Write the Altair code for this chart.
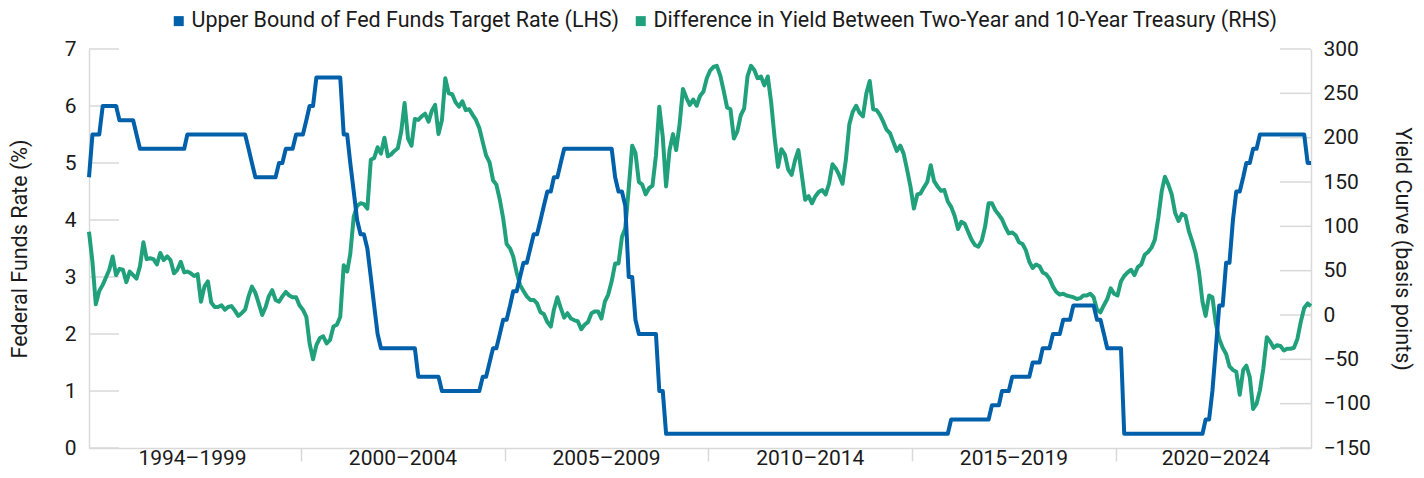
import altair as alt
import pandas as pd

# ---------------- data ----------------
months = pd.date_range("1994-10-01", "2024-10-01", freq="MS").strftime("%Y-%m-%d").tolist()

fed_funds = [
    4.75, 5.5, 5.5,                                                   # 1994 Oct-Dec
    5.5, 6.0, 6.0, 6.0, 6.0, 6.0, 5.75, 5.75, 5.75, 5.75, 5.75, 5.5,  # 1995
    5.25, 5.25, 5.25, 5.25, 5.25, 5.25, 5.25, 5.25, 5.25, 5.25, 5.25, 5.25,  # 1996
    5.25, 5.25, 5.5, 5.5, 5.5, 5.5, 5.5, 5.5, 5.5, 5.5, 5.5, 5.5,    # 1997
    5.5, 5.5, 5.5, 5.5, 5.5, 5.5, 5.5, 5.5, 5.25, 5.0, 4.75, 4.75,   # 1998
    4.75, 4.75, 4.75, 4.75, 4.75, 5.0, 5.0, 5.25, 5.25, 5.25, 5.5, 5.5,  # 1999
    5.5, 5.75, 6.0, 6.0, 6.5, 6.5, 6.5, 6.5, 6.5, 6.5, 6.5, 6.5,     # 2000
    5.5, 5.5, 5.0, 4.5, 4.0, 3.75, 3.75, 3.5, 3.0, 2.5, 2.0, 1.75,   # 2001
    1.75, 1.75, 1.75, 1.75, 1.75, 1.75, 1.75, 1.75, 1.75, 1.75, 1.25, 1.25,  # 2002
    1.25, 1.25, 1.25, 1.25, 1.25, 1.0, 1.0, 1.0, 1.0, 1.0, 1.0, 1.0,  # 2003
    1.0, 1.0, 1.0, 1.0, 1.0, 1.25, 1.25, 1.5, 1.75, 1.75, 2.0, 2.25,  # 2004
    2.25, 2.5, 2.75, 2.75, 3.0, 3.25, 3.25, 3.5, 3.75, 3.75, 4.0, 4.25,  # 2005
    4.5, 4.5, 4.75, 4.75, 5.0, 5.25, 5.25, 5.25, 5.25, 5.25, 5.25, 5.25,  # 2006
    5.25, 5.25, 5.25, 5.25, 5.25, 5.25, 5.25, 5.25, 4.75, 4.5, 4.5, 4.25,  # 2007
    3.0, 3.0, 2.25, 2.0, 2.0, 2.0, 2.0, 2.0, 2.0, 1.0, 1.0, 0.25,    # 2008
    0.25, 0.25, 0.25, 0.25, 0.25, 0.25, 0.25, 0.25, 0.25, 0.25, 0.25, 0.25,  # 2009
    0.25, 0.25, 0.25, 0.25, 0.25, 0.25, 0.25, 0.25, 0.25, 0.25, 0.25, 0.25,  # 2010
    0.25, 0.25, 0.25, 0.25, 0.25, 0.25, 0.25, 0.25, 0.25, 0.25, 0.25, 0.25,  # 2011
    0.25, 0.25, 0.25, 0.25, 0.25, 0.25, 0.25, 0.25, 0.25, 0.25, 0.25, 0.25,  # 2012
    0.25, 0.25, 0.25, 0.25, 0.25, 0.25, 0.25, 0.25, 0.25, 0.25, 0.25, 0.25,  # 2013
    0.25, 0.25, 0.25, 0.25, 0.25, 0.25, 0.25, 0.25, 0.25, 0.25, 0.25, 0.25,  # 2014
    0.25, 0.25, 0.25, 0.25, 0.25, 0.25, 0.25, 0.25, 0.25, 0.25, 0.25, 0.5,   # 2015
    0.5, 0.5, 0.5, 0.5, 0.5, 0.5, 0.5, 0.5, 0.5, 0.5, 0.5, 0.75,     # 2016
    0.75, 0.75, 1.0, 1.0, 1.0, 1.25, 1.25, 1.25, 1.25, 1.25, 1.25, 1.5,  # 2017
    1.5, 1.5, 1.75, 1.75, 1.75, 2.0, 2.0, 2.0, 2.25, 2.25, 2.25, 2.5,  # 2018
    2.5, 2.5, 2.5, 2.5, 2.5, 2.5, 2.25, 2.25, 2.0, 1.75, 1.75, 1.75,  # 2019
    1.75, 1.75, 0.25, 0.25, 0.25, 0.25, 0.25, 0.25, 0.25, 0.25, 0.25, 0.25,  # 2020
    0.25, 0.25, 0.25, 0.25, 0.25, 0.25, 0.25, 0.25, 0.25, 0.25, 0.25, 0.25,  # 2021
    0.25, 0.25, 0.5, 0.5, 1.0, 1.75, 2.5, 2.5, 3.25, 3.25, 4.0, 4.5,  # 2022
    4.5, 4.75, 5.0, 5.0, 5.25, 5.25, 5.5, 5.5, 5.5, 5.5, 5.5, 5.5,   # 2023
    5.5, 5.5, 5.5, 5.5, 5.5, 5.5, 5.5, 5.5, 5.0, 5.0,                # 2024 Jan-Oct
]

yield_spread = [
    94, 60, 12,                                                       # 1994 Oct-Dec
    27, 34, 42, 51, 66, 45, 52, 51, 37, 49, 45, 41,                  # 1995
    55, 82, 63, 64, 63, 57, 70, 62, 66, 62, 47, 51,                  # 1996
    60, 48, 49, 47, 44, 46, 15, 32, 38, 14, 9, 9,                    # 1997
    11, 6, 9, 10, 5, -1, 2, 6, 21, 32, 25, 13,                       # 1998
    0, 9, 21, 28, 17, 15, 21, 26, 22, 20, 20, 11,                    # 1999
    6, -2, -32, -50, -34, -26, -24, -32, -28, -13, -11, -2,          # 2000
    56, 49, 69, 111, 123, 126, 125, 120, 175, 177, 189, 182,         # 2001
    200, 179, 181, 185, 188, 207, 239, 199, 191, 221, 220, 224,      # 2002
    227, 218, 230, 237, 204, 220, 267, 250, 249, 240, 235, 241,      # 2003
    231, 232, 226, 220, 211, 195, 180, 172, 152, 147, 130, 109,      # 2004
    80, 75, 66, 48, 34, 27, 21, 17, 17, 13, 3, 1,                    # 2005
    -8, -13, 6, 20, 8, -3, 2, -4, -6, -7, -16, -11,                  # 2006
    -8, 2, 4, 4, -4, 15, 23, 38, 58, 58, 88, 98,                     # 2007
    143, 191, 183, 150, 147, 136, 143, 146, 180, 235, 201, 145,      # 2008
    186, 204, 186, 215, 255, 245, 237, 243, 236, 247, 252, 267,      # 2009
    276, 280, 281, 270, 253, 234, 232, 199, 207, 225, 233, 269,      # 2010
    281, 276, 267, 269, 259, 269, 240, 200, 167, 187, 181, 164,      # 2011
    158, 175, 186, 158, 130, 134, 126, 134, 139, 141, 136, 148,      # 2012
    170, 165, 158, 148, 175, 215, 229, 236, 228, 224, 250, 264,      # 2013
    232, 231, 226, 218, 209, 205, 195, 185, 191, 182, 164, 145,      # 2014
    120, 136, 137, 144, 150, 169, 151, 145, 140, 141, 128, 122,      # 2015
    112, 97, 105, 103, 94, 85, 79, 77, 84, 100, 126, 126,            # 2016
    118, 113, 108, 99, 92, 93, 90, 82, 80, 73, 60, 53,               # 2017
    57, 55, 48, 46, 41, 32, 26, 23, 24, 22, 21, 20,                  # 2018
    18, 19, 22, 22, 24, 20, 6, 3, 11, 18, 30, 24,                    # 2019
    22, 38, 44, 48, 51, 45, 54, 57, 68, 71, 76, 85,                  # 2020
    110, 140, 156, 147, 136, 115, 106, 114, 112, 95, 83, 70,         # 2021
    48, 15, -1, 22, 20, -10, -27, -37, -44, -58, -62, -64,           # 2022
    -90, -62, -57, -70, -106, -100, -85, -60, -25, -30, -37, -34,    # 2023
    -35, -40, -38, -38, -37, -27, -8, 8, 13, 10,                     # 2024 Jan-Oct
]

period_labels = ["1994\u20131999", "2000\u20132004", "2005\u20132009",
                 "2010\u20132014", "2015\u20132019", "2020\u20132024"]
period_centers = ["1997-04-16", "2002-06-16", "2007-06-16",
                  "2012-06-16", "2017-06-16", "2022-06-01"]
period_breaks = ["1999-12-16", "2004-12-16", "2009-12-16", "2014-12-16", "2019-12-16"]

left_ticks = [0, 1, 2, 3, 4, 5, 6, 7]
right_ticks = [-150, -100, -50, 0, 50, 100, 150, 200, 250, 300]

S1 = "Upper Bound of Fed Funds Target Rate (LHS)"
S2 = "Difference in Yield Between Two-Year and 10-Year Treasury (RHS)"

# ---------------- style ----------------
BLUE = "#0060A9"
GREEN = "#21A07C"
TXT = "#1a1a1a"
GRID = "#d9d9d9"
FONT = "Roboto"
FS_LAB = 21
FS_TITLE = 21.5
W, H = 1222, 399

df_fed = pd.DataFrame({"date": months, "value": fed_funds, "series": S1})
df_spread = pd.DataFrame({"date": months, "value": yield_spread, "series": S2})
df_lt = pd.DataFrame({"tick": left_ticks})
df_rt = pd.DataFrame({"tick": right_ticks})
df_periods = pd.DataFrame({"date": period_centers, "label": period_labels})


def dt(s):
    y, m, d = (int(p) for p in s.split("-"))
    return alt.DateTime(year=y, month=m, date=d, utc=True)


x_scale = alt.Scale(domain=[dt(months[0]), dt(months[-1])], nice=False)
x_axis = alt.Axis(values=[dt(s) for s in period_breaks], labels=False, title=None,
                  grid=False, tickSize=13, tickColor=GRID, tickWidth=1.5,
                  domainColor=GRID, domainWidth=1.5)
X = alt.X("date:T", scale=x_scale, axis=x_axis)

fed_scale = alt.Scale(domain=[0, 7], nice=False, zero=False)
spr_scale = alt.Scale(domain=[-150, 300], nice=False, zero=False)

color = alt.Color(
    "series:N",
    scale=alt.Scale(domain=[S1, S2], range=[BLUE, GREEN]),
    legend=alt.Legend(
        orient="none", legendX=79, legendY=-39, direction="horizontal", title=None,
        symbolType="square", symbolSize=25, symbolStrokeWidth=5,
        labelFontSize=FS_TITLE, labelFont=FONT, labelColor=TXT, labelLimit=1000,
        labelOffset=2, columnPadding=8, padding=0,
    ),
)

left_axis = alt.Axis(orient="left", values=left_ticks, ticks=False, tickSize=0, grid=False,
                     domainColor=GRID, domainWidth=1.5,
                     labelFontSize=FS_LAB, labelFont=FONT, labelColor=TXT, labelPadding=13,
                     title="Federal Funds Rate (%)", titleFontSize=FS_TITLE, titleFont=FONT,
                     titleFontWeight="normal", titleColor=TXT, titleX=-69,
                     titleBaseline="middle")
right_axis = alt.Axis(orient="right", values=right_ticks, ticks=False, tickSize=0, grid=False,
                      domainColor=GRID, domainWidth=1.5,
                      labelFontSize=FS_LAB, labelFont=FONT, labelColor=TXT, labelPadding=12,
                      title="Yield Curve (basis points)", titleFontSize=FS_TITLE, titleFont=FONT,
                      titleFontWeight="normal", titleColor=TXT, titleX=90,
                      titleBaseline="middle")

spread_ticks = alt.Chart(df_rt).mark_rule(color=GRID, strokeWidth=1.5).encode(
    y=alt.Y("tick:Q", scale=spr_scale, axis=None),
    x=alt.value(W - 31), x2=alt.value(W),
)
fed_ticks = alt.Chart(df_lt).mark_rule(color=GRID, strokeWidth=1.5).encode(
    y=alt.Y("tick:Q", scale=fed_scale, axis=None),
    x=alt.value(0), x2=alt.value(30),
)
spread_line = alt.Chart(df_spread).mark_line(strokeWidth=4, strokeJoin="round").encode(
    x=X, y=alt.Y("value:Q", scale=spr_scale, axis=right_axis), color=color,
)
fed_line = alt.Chart(df_fed).mark_line(strokeWidth=4, strokeJoin="round").encode(
    x=X, y=alt.Y("value:Q", scale=fed_scale, axis=left_axis), color=color,
)
period_text = alt.Chart(df_periods).mark_text(
    fontSize=FS_LAB, font=FONT, color=TXT, baseline="alphabetic", align="center"
).encode(x=X, y=alt.value(H + 17), text="label:N")

chart = (
    alt.layer(spread_ticks, fed_ticks, spread_line, fed_line, period_text)
    .resolve_scale(y="independent")
    .properties(
        width=W, height=H,
        padding={"left": 81, "top": 41, "right": 105, "bottom": 22},
        autosize=alt.AutoSizeParams(type="none"),
    )
    .configure_view(stroke=None)
)

chart.save("out.html", embed_options={"renderer": "svg", "actions": False})
